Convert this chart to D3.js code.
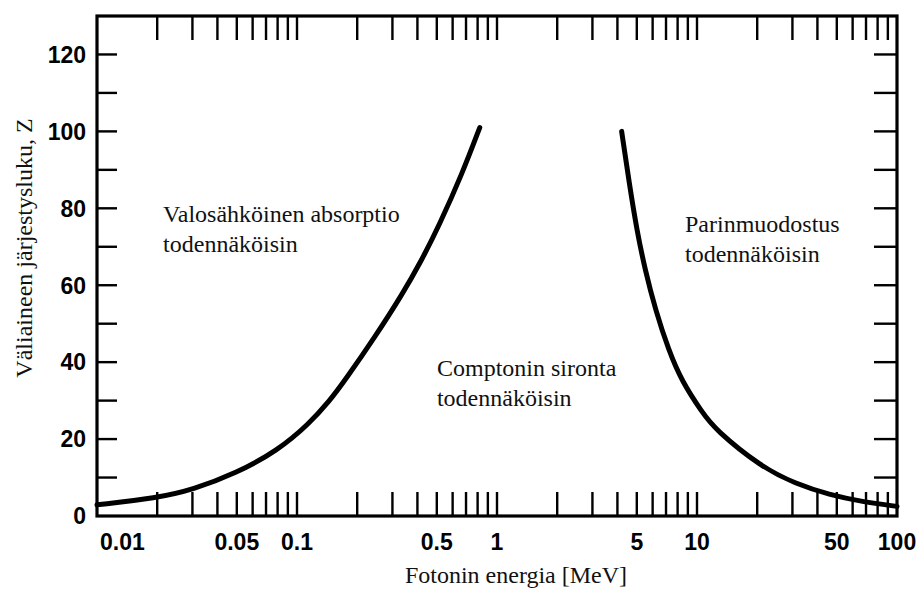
<!DOCTYPE html>
<html><head><meta charset="utf-8">
<script src="https://cdn.jsdelivr.net/npm/d3@7"></script>
<style>body{margin:0;background:#fff}svg{display:block}</style>
</head><body><svg id="c" width="920" height="592"></svg>
<script>
// Boundary: photoelectric absorption = Compton scattering  [E (MeV), Z]
const photoComptonE = [0.01, 0.02, 0.03, 0.05, 0.08, 0.115, 0.145, 0.175, 0.245, 0.335, 0.42, 0.513, 0.67, 0.82];
const photoComptonZ = [2.9, 4.7, 6.8, 11.2, 17, 24, 29.8, 35.5, 46.5, 57.5, 66.5, 75.5, 89, 101];
// Boundary: Compton scattering = pair production
const pairComptonE = [4.2, 4.6, 5.0, 5.5, 6.2, 7.2, 8.4, 10.6, 12.3, 21, 31, 46, 67, 100];
const pairComptonZ = [100, 86, 74.4, 64, 53.6, 43.2, 35, 27, 22.5, 12.7, 8.4, 5.5, 3.7, 2.5];
const xTickLabels = [0.01, 0.05, 0.1, 0.5, 1, 5, 10, 50, 100];
const yTickLabels = [0, 20, 40, 60, 80, 100, 120];
const regionNames = [["Valosähköinen absorptio", "todennäköisin"], ["Comptonin sironta", "todennäköisin"], ["Parinmuodostus", "todennäköisin"]];
const regionAnchorE = [0.0214, 0.501, 8.71];
const regionAnchorZ = [76.5, 36.4, 73.8];
const xTitle = "Fotonin energia [MeV]";
const yTitle = "Väliaineen järjestysluku, Z";

const svg = d3.select("#c");
const L = 97, R = 897, T = 16, B = 516;
const x = d3.scaleLog().domain([0.01, 100]).range([L, R]);
const y = d3.scaleLinear().domain([0, 130]).range([B, T]);

const g = svg.append("g");
// ticks
const xt = x.ticks().filter(d => d > 0.0100001 && d < 99.999);
g.selectAll(".xb").data(xt).join("line")
  .attr("x1", d => x(d)).attr("x2", d => x(d)).attr("y1", B).attr("y2", B - 24)
  .attr("stroke", "#000").attr("stroke-width", 2.4);
g.selectAll(".xt").data(xt).join("line")
  .attr("x1", d => x(d)).attr("x2", d => x(d)).attr("y1", T).attr("y2", T + 24)
  .attr("stroke", "#000").attr("stroke-width", 2.4);
const yt = y.ticks(13).filter(d => d > 0 && d < 130);
g.selectAll(".yl").data(yt).join("line")
  .attr("x1", L).attr("x2", L + 20).attr("y1", d => y(d)).attr("y2", d => y(d))
  .attr("stroke", "#000").attr("stroke-width", 2.4);
g.selectAll(".yr").data(yt).join("line")
  .attr("x1", R).attr("x2", R - 23).attr("y1", d => y(d)).attr("y2", d => y(d))
  .attr("stroke", "#000").attr("stroke-width", 2.4);
// frame
g.append("rect").attr("x", L).attr("y", T).attr("width", R - L).attr("height", B - T)
  .attr("fill", "none").attr("stroke", "#000").attr("stroke-width", 3.2);

// tick labels
const fmt = d => String(d);
g.selectAll(".xlab").data(xTickLabels).join("text")
  .attr("x", (d, i) => i === 0 ? x(d) + 3 : x(d))
  .attr("y", 550)
  .attr("text-anchor", (d, i) => i === 0 ? "start" : "middle")
  .attr("font-family", "'Liberation Sans', Arial, sans-serif").attr("font-weight", "bold").attr("font-size", 23)
  .text(fmt);
g.selectAll(".ylab").data(yTickLabels).join("text")
  .attr("x", 86).attr("y", d => y(d)).attr("dy", "0.36em")
  .attr("text-anchor", "end")
  .attr("font-family", "'Liberation Sans', Arial, sans-serif").attr("font-weight", "bold").attr("font-size", 23)
  .text(fmt);

// curves
const line = d3.line().x(d => x(d[0])).y(d => y(d[1])).curve(d3.curveBasis);
const c1 = photoComptonE.map((e, i) => [e, photoComptonZ[i]]);
const c2 = pairComptonE.map((e, i) => [e, pairComptonZ[i]]);
[c1, c2].forEach(c => g.append("path").attr("d", line(c)).attr("fill", "none")
  .attr("stroke", "#000").attr("stroke-width", 5).attr("stroke-linecap", "round"));

// region labels
regionNames.forEach((lines, i) => {
  const t = g.append("text").attr("font-family", "'Liberation Serif', 'Times New Roman', serif")
    .attr("font-size", 24).attr("fill", "#111");
  lines.forEach((s, j) => t.append("tspan").attr("x", x(regionAnchorE[i])).attr("y", y(regionAnchorZ[i]) + j * 30).text(s));
});

// axis titles
g.append("text").attr("x", 516).attr("y", 583).attr("text-anchor", "middle")
  .attr("font-family", "'Liberation Serif', 'Times New Roman', serif").attr("font-size", 24).attr("fill", "#111")
  .text(xTitle);
g.append("text").attr("transform", "translate(32,248) rotate(-90)").attr("text-anchor", "middle")
  .attr("font-family", "'Liberation Serif', 'Times New Roman', serif").attr("font-size", 24).attr("fill", "#111")
  .text(yTitle);
</script></body></html>
